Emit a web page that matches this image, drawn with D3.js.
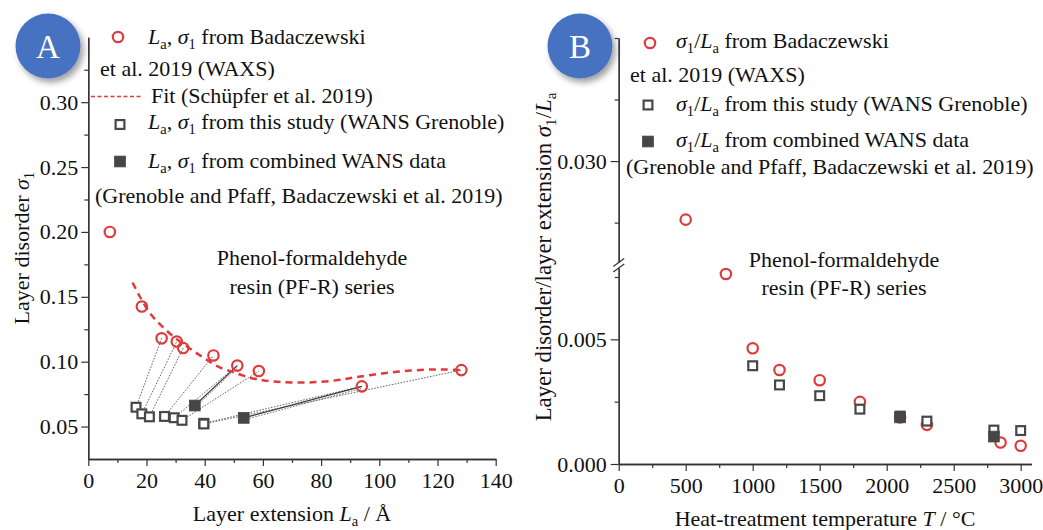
<!DOCTYPE html>
<html>
<head>
<meta charset="utf-8">
<script src="https://cdn.jsdelivr.net/npm/d3@7"></script>
<style>
  html, body { margin: 0; padding: 0; background: #fff; }
  svg { display: block; font-family: "Liberation Serif", "Times New Roman", serif; }
</style>
</head>
<body>
<svg id="chart" width="1043" height="530"></svg>
<script>
// ---------- Panel A: layer disorder sigma_1 vs. layer extension L_a ----------
const waxsLa    = [7.4, 18.4, 25.2, 30.4, 32.6, 43.0, 51.2, 58.6, 94.0, 128.2];
const waxsSigma = [0.200, 0.1425, 0.118, 0.1155, 0.1105, 0.1048, 0.0970, 0.0928, 0.0810, 0.0935];
const waxsTempA = [500, 800, 1000, 1200, 1500, 1800, 2100, 2300, 2850, 3000];

const wansLa    = [16.4, 18.4, 21.0, 26.2, 29.5, 32.2, 39.7, 39.7];
const wansSigma = [0.0649, 0.0598, 0.0575, 0.0578, 0.0568, 0.0548, 0.0525, 0.0520];
const wansTempA = [1000, 1200, 1500, 1800, 2100, 2300, 2800, 3000];

const combLa    = [36.6, 53.4];
const combSigma = [0.0662, 0.0567];
const combTempA = [2100, 2800];

// Fit curve (Schüpfer et al. 2019)
const fitLa    = [15.2, 17.5, 21, 25, 30, 35, 40, 45, 50, 55, 60, 65, 70, 77, 85, 92, 100, 108, 116, 122, 128.2];
const fitSigma = [0.161, 0.151, 0.138, 0.128, 0.118, 0.110, 0.1025, 0.0958, 0.0918, 0.088, 0.0857, 0.0845, 0.0840, 0.0841, 0.0856, 0.0880, 0.0906, 0.0927, 0.0938, 0.0940, 0.0935];

const xTicksA      = [0, 20, 40, 60, 80, 100, 120, 140];
const xMinorTicksA = [10, 30, 50, 70, 90, 110, 130];
const yTicksA      = [0.05, 0.10, 0.15, 0.20, 0.25, 0.30];
const yMinorTicksA = [0.075, 0.125, 0.175, 0.225, 0.275, 0.325];

// ---------- Panel B: sigma_1 / L_a vs. heat-treatment temperature ----------
const waxsT     = [500, 800, 1000, 1200, 1500, 1800, 2100, 2300, 2850, 3000];
const waxsRatio = [0.02762, 0.00762, 0.00464, 0.00377, 0.00336, 0.00249, 0.00187, 0.00157, 0.00086, 0.00073];

const wansT     = [1000, 1200, 1500, 1800, 2100, 2300, 2800, 3000];
const wansRatio = [0.00394, 0.00317, 0.00274, 0.00220, 0.00192, 0.00172, 0.00136, 0.00134];

const combT     = [2100, 2800];
const combRatio = [0.00187, 0.00110];

const xTicksB         = [0, 500, 1000, 1500, 2000, 2500, 3000];
const xMinorTicksB    = [250, 750, 1250, 1750, 2250, 2750];
const yTicksBLow      = [0, 0.005];
const yMinorTicksBLow = [0.0025, 0.0075];
const yTicksBUp       = [0.030];
const yMinorTicksBUp  = [0.0275, 0.0325, 0.035];

// ---------- styling ----------
const FS = 22;           // base font size
const SUB = 5;           // subscript drop
const RED = "#df3a3c";
const GREY = "#474747";
const AXIS = "#333";

const svg = d3.select("#chart");

const defs = svg.append("defs");
const f = defs.append("filter").attr("id", "badgeShadow")
  .attr("x", "-40%").attr("y", "-40%").attr("width", "190%").attr("height", "190%");
f.append("feDropShadow").attr("dx", 3).attr("dy", 4).attr("stdDeviation", 3.2)
  .attr("flood-color", "#000").attr("flood-opacity", 0.38);

// text with italic symbols and subscripts
function rich(parent, x, y, parts, anchor, size) {
  const fs = size || FS;
  const t = parent.append("text")
    .attr("x", x).attr("y", y)
    .attr("font-size", fs)
    .attr("fill", "#111")
    .attr("text-anchor", anchor || "start");
  let shift = 0;
  parts.forEach(p => {
    const [str, kind] = typeof p === "string" ? [p, ""] : p;
    const ts = t.append("tspan").text(str);
    const isSub = kind.includes("s");
    const target = isSub ? SUB : 0;
    if (target !== shift) { ts.attr("dy", target - shift); shift = target; }
    if (isSub) ts.attr("font-size", fs * 0.66);
    if (kind.includes("i")) ts.attr("font-style", "italic");
  });
  return t;
}

function styleAxis(g) {
  g.select(".domain").attr("stroke", AXIS).attr("stroke-width", 1.3);
  g.selectAll(".tick line").attr("stroke", AXIS).attr("stroke-width", 1.2);
  g.selectAll(".tick text")
    .attr("font-family", "Liberation Serif, Times New Roman, serif")
    .attr("font-size", FS).attr("fill", "#111");
  g.attr("font-family", null).attr("font-size", null);
}

function circleMark(g, x, y) {
  g.append("circle").attr("cx", x).attr("cy", y).attr("r", 5.2)
    .attr("fill", "none").attr("stroke", RED).attr("stroke-width", 2.2);
}
function openSquare(g, x, y) {
  g.append("rect").attr("x", x - 4.4).attr("y", y - 4.4).attr("width", 8.8).attr("height", 8.8)
    .attr("fill", "#fff").attr("stroke", GREY).attr("stroke-width", 2.2);
}
function filledSquare(g, x, y) {
  g.append("rect").attr("x", x - 5.4).attr("y", y - 5.4).attr("width", 10.8).attr("height", 10.8)
    .attr("fill", "#464646").attr("stroke", "#464646").attr("stroke-width", 0.8);
}

function badge(cx, cy, letter) {
  const g = svg.append("g");
  g.append("circle").attr("cx", cx).attr("cy", cy).attr("r", 32.5)
    .attr("fill", "#4672c2").attr("filter", "url(#badgeShadow)");
  g.append("text").attr("x", cx).attr("y", cy + 11.5)
    .attr("text-anchor", "middle").attr("font-size", 33)
    .attr("fill", "#fff").text(letter);
}

// =================== Panel A ===================
const xA = d3.scaleLinear().domain([0, 140]).range([88.3, 495.7]);
const yA = d3.scaleLinear().domain([0.025, 0.35]).range([459, 37.3]);

const gA = svg.append("g");

// axes
gA.append("g").attr("transform", `translate(0,${yA(0.025)})`)
  .call(d3.axisBottom(xA).tickValues(xMinorTicksA).tickSize(4).tickSizeOuter(0).tickFormat(""))
  .call(styleAxis);
gA.append("g").attr("transform", `translate(0,${yA(0.025)})`)
  .call(d3.axisBottom(xA).tickValues(xTicksA).tickSize(7).tickSizeOuter(0).tickPadding(6).tickFormat(d3.format("d")))
  .call(styleAxis);
gA.append("g").attr("transform", `translate(${xA(0)},0)`)
  .call(d3.axisLeft(yA).tickValues(yMinorTicksA).tickSize(4).tickSizeOuter(0).tickFormat(""))
  .call(styleAxis);
gA.append("g").attr("transform", `translate(${xA(0)},0)`)
  .call(d3.axisLeft(yA).tickValues(yTicksA).tickSize(7).tickSizeOuter(0).tickPadding(3).tickFormat(d3.format(".2f")))
  .call(styleAxis);

// connectors between samples of the same heat-treatment temperature
const matchA = t => waxsTempA.findIndex(w => Math.abs(w - t) <= 50);
const conn = gA.append("g");
wansLa.forEach((la, i) => {
  const j = matchA(wansTempA[i]);
  if (j < 0) return;
  conn.append("line")
    .attr("x1", xA(la)).attr("y1", yA(wansSigma[i]))
    .attr("x2", xA(waxsLa[j])).attr("y2", yA(waxsSigma[j]))
    .attr("stroke", "#555").attr("stroke-width", 0.9).attr("stroke-dasharray", "1.6,1.4");
});
combLa.forEach((la, i) => {
  const j = matchA(combTempA[i]);
  if (j < 0) return;
  conn.append("line")
    .attr("x1", xA(la)).attr("y1", yA(combSigma[i]))
    .attr("x2", xA(waxsLa[j])).attr("y2", yA(waxsSigma[j]))
    .attr("stroke", "#3a3a3a").attr("stroke-width", 1.2);
  conn.append("line")
    .attr("x1", xA(la)).attr("y1", yA(combSigma[i]) + 2)
    .attr("x2", xA(waxsLa[j])).attr("y2", yA(waxsSigma[j]) + 2)
    .attr("stroke", "#666").attr("stroke-width", 0.9).attr("stroke-dasharray", "1.6,1.4");
});

// fit curve
const fitLine = d3.line().x(d => xA(d[0])).y(d => yA(d[1])).curve(d3.curveCatmullRom.alpha(0.5));
gA.append("path").datum(fitLa.map((v, i) => [v, fitSigma[i]]))
  .attr("d", fitLine).attr("fill", "none")
  .attr("stroke", RED).attr("stroke-width", 2.5).attr("stroke-dasharray", "7,5");

// markers
waxsLa.forEach((la, i) => circleMark(gA, xA(la), yA(waxsSigma[i])));
wansLa.forEach((la, i) => openSquare(gA, xA(la), yA(wansSigma[i])));
combLa.forEach((la, i) => filledSquare(gA, xA(la), yA(combSigma[i])));

// legend A
circleMark(gA, 118, 37);
rich(gA, 148, 43.5, [["L", "i"], ["a", "s"], ", ", ["σ", "i"], ["1", "s"], " from Badaczewski"]);
rich(gA, 100, 76, ["et al. 2019 (WAXS)"]);
gA.append("line").attr("x1", 91).attr("x2", 143).attr("y1", 96.5).attr("y2", 96.5)
  .attr("stroke", RED).attr("stroke-width", 1.6).attr("stroke-dasharray", "4,2.5");
rich(gA, 151, 102.5, ["Fit (Schüpfer et al. 2019)"]);
openSquare(gA, 120, 124.5);
rich(gA, 148, 128.5, [["L", "i"], ["a", "s"], ", ", ["σ", "i"], ["1", "s"], " from this study (WANS Grenoble)"]);
filledSquare(gA, 120, 161.5);
rich(gA, 148, 168, [["L", "i"], ["a", "s"], ", ", ["σ", "i"], ["1", "s"], " from combined WANS data"]);
rich(gA, 95, 202.5, ["(Grenoble and Pfaff, Badaczewski et al. 2019)"]);

rich(gA, 312, 265, ["Phenol-formaldehyde"], "middle");
rich(gA, 312, 293.5, ["resin (PF-R) series"], "middle");

// axis titles A
rich(gA, xA(70), 521, ["Layer extension ", ["L", "i"], ["a", "s"], " / Å"], "middle");
const ytA = gA.append("g").attr("transform", `translate(29,${(yA(0.025) + yA(0.35)) / 2}) rotate(-90)`);
rich(ytA, 0, 0, ["Layer disorder ", ["σ", "i"], ["1", "s"]], "middle");

// =================== Panel B ===================
const xB = d3.scaleLinear().domain([0, 3080]).range([618.7, 1031.4]);
const yBlow = d3.scaleLinear().domain([0, 0.00786]).range([464, 268]);
const yBup = d3.scaleLinear().domain([0.0259, 0.035]).range([262, 38]);
const yB = v => (v > 0.02 ? yBup(v) : yBlow(v));

const gB = svg.append("g");

gB.append("g").attr("transform", `translate(0,${yBlow(0)})`)
  .call(d3.axisBottom(xB).tickValues(xMinorTicksB).tickSize(4).tickSizeOuter(0).tickFormat(""))
  .call(styleAxis);
gB.append("g").attr("transform", `translate(0,${yBlow(0)})`)
  .call(d3.axisBottom(xB).tickValues(xTicksB).tickSize(7).tickSizeOuter(0).tickPadding(6).tickFormat(d3.format("d")))
  .call(styleAxis);

[[yBlow, yTicksBLow, yMinorTicksBLow], [yBup, yTicksBUp, yMinorTicksBUp]].forEach(([sc, major, minor]) => {
  gB.append("g").attr("transform", `translate(${xB(0)},0)`)
    .call(d3.axisLeft(sc).tickValues(minor).tickSize(4).tickSizeOuter(0).tickFormat(""))
    .call(styleAxis);
  gB.append("g").attr("transform", `translate(${xB(0)},0)`)
    .call(d3.axisLeft(sc).tickValues(major).tickSize(8).tickSizeOuter(0).tickPadding(4).tickFormat(d3.format(".3f")))
    .call(styleAxis);
});

// axis break marks
const bx = xB(0);
[[262.5], [268]].forEach(([yy]) => {
  gB.append("line").attr("x1", bx - 5.5).attr("y1", yy + 4).attr("x2", bx + 5.5).attr("y2", yy - 4)
    .attr("stroke", AXIS).attr("stroke-width", 1.2);
});

// markers
waxsT.forEach((t, i) => circleMark(gB, xB(t), yB(waxsRatio[i])));
wansT.forEach((t, i) => openSquare(gB, xB(t), yB(wansRatio[i])));
combT.forEach((t, i) => filledSquare(gB, xB(t), yB(combRatio[i])));

// legend B
circleMark(gB, 650, 43);
rich(gB, 676, 48, [["σ", "i"], ["1", "s"], "/", ["L", "i"], ["a", "s"], " from Badaczewski"]);
rich(gB, 630, 81.5, ["et al. 2019 (WAXS)"]);
openSquare(gB, 648, 105);
rich(gB, 676, 110.5, [["σ", "i"], ["1", "s"], "/", ["L", "i"], ["a", "s"], " from this study (WANS Grenoble)"]);
filledSquare(gB, 648, 141.5);
rich(gB, 676, 146.5, [["σ", "i"], ["1", "s"], "/", ["L", "i"], ["a", "s"], " from combined WANS data"]);
rich(gB, 626, 173.5, ["(Grenoble and Pfaff, Badaczewski et al. 2019)"]);

rich(gB, 844, 267, ["Phenol-formaldehyde"], "middle");
rich(gB, 844, 295, ["resin (PF-R) series"], "middle");

// axis titles B
rich(gB, (xB(0) + xB(3080)) / 2, 526, ["Heat-treatment temperature ", ["T", "i"], " / °C"], "middle");
const ytB = gB.append("g").attr("transform", `translate(551,257) rotate(-90)`);
rich(ytB, 0, 0, ["Layer disorder/layer extension ", ["σ", "i"], ["1", "s"], "/", ["L", "i"], ["a", "s"]], "middle", 22.8);

// panel badges
badge(48, 46, "A");
badge(580, 46, "B");
</script>
</body>
</html>
